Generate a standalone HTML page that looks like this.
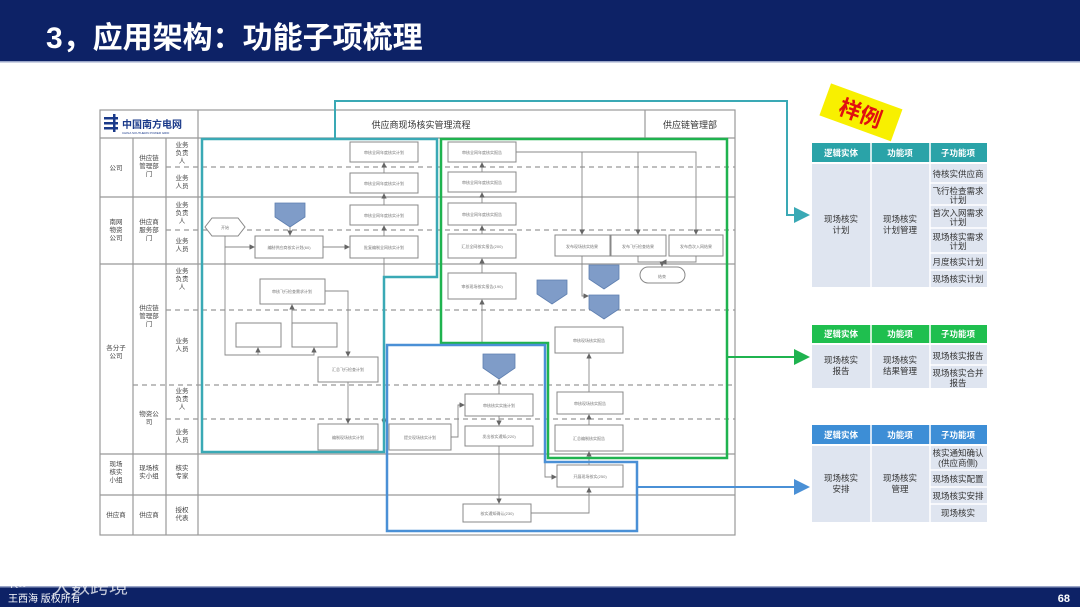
<!DOCTYPE html>
<html><head><meta charset="utf-8"><style>
html,body{margin:0;padding:0;background:#fff}
body{width:1080px;height:607px;overflow:hidden;position:relative;font-family:"Liberation Sans","Noto Sans CJK SC",sans-serif}
svg{position:absolute;left:0;top:0}
.t{font-family:"Liberation Sans","Noto Sans CJK SC",sans-serif}
</style></head><body>
<svg width="1080" height="607" viewBox="0 0 1080 607" xmlns="http://www.w3.org/2000/svg">
<defs>
<marker id="ag" markerWidth="6" markerHeight="6" refX="5" refY="3" orient="auto"><path d="M0,0 L6,3 L0,6z" fill="#666"/></marker>
<marker id="at" markerWidth="8" markerHeight="8" refX="7" refY="4" orient="auto"><path d="M0,0 L8,4 L0,8z" fill="#3aa9b5"/></marker>
<marker id="agr" markerWidth="8" markerHeight="8" refX="7" refY="4" orient="auto"><path d="M0,0 L8,4 L0,8z" fill="#1fb34f"/></marker>
<marker id="ab" markerWidth="8" markerHeight="8" refX="7" refY="4" orient="auto"><path d="M0,0 L8,4 L0,8z" fill="#4a90d6"/></marker>
</defs>
<!-- title bar -->
<rect x="0" y="0" width="1080" height="61" fill="#0d2266"/>
<rect x="0" y="61" width="1080" height="1.5" fill="#9aa6c8"/>
<text x="46" y="48" class="t" font-size="30" font-weight="bold" fill="#fff">3，应用架构：功能子项梳理</text>

<!-- diagram frame -->
<g stroke="#999" fill="none" stroke-width="1.2">
<rect x="100" y="110" width="635" height="425" fill="#fff"/>
<line x1="100" y1="138" x2="735" y2="138"/>
<line x1="198" y1="110" x2="198" y2="535"/>
<line x1="645" y1="110" x2="645" y2="138"/>
<line x1="133" y1="138" x2="133" y2="535"/>
<line x1="166" y1="138" x2="166" y2="535"/>
<line x1="100" y1="197" x2="735" y2="197"/>
<line x1="100" y1="264" x2="735" y2="264"/>
<line x1="100" y1="454" x2="735" y2="454"/>
<line x1="100" y1="495" x2="735" y2="495"/>
<line x1="133" y1="385" x2="735" y2="385" stroke-dasharray="5,4"/>
<line x1="166" y1="167" x2="735" y2="167" stroke-dasharray="5,4"/>
<line x1="166" y1="230" x2="735" y2="230" stroke-dasharray="5,4"/>
<line x1="166" y1="310" x2="735" y2="310" stroke-dasharray="5,4"/>
<line x1="166" y1="419" x2="735" y2="419" stroke-dasharray="5,4"/>
</g>
<!-- logo -->
<g fill="#1a3a8a"><rect x="104" y="117" width="14" height="2.5"/><rect x="104" y="122" width="14" height="2.5"/><rect x="104" y="127" width="14" height="2.5"/><rect x="113" y="114" width="2.5" height="18"/></g>
<text x="122" y="128" class="t" font-size="10" font-weight="bold" fill="#1a3a8a">中国南方电网</text>
<text x="122" y="134" class="t" font-size="3" fill="#1a3a8a">CHINA SOUTHERN POWER GRID</text>
<text x="421" y="128" class="t" font-size="9" fill="#333" text-anchor="middle">供应商现场核实管理流程</text>
<text x="690" y="128" class="t" font-size="9" fill="#333" text-anchor="middle">供应链管理部</text>
<!-- lane labels -->
<g class="t" font-size="6.5" fill="#444" text-anchor="middle">
<text x="116" y="170">公司</text>
<text x="149" y="160">供应链</text><text x="149" y="168">管理部</text><text x="149" y="176">门</text>
<text x="182" y="147">业务</text><text x="182" y="155">负责</text><text x="182" y="163">人</text>
<text x="182" y="180">业务</text><text x="182" y="188">人员</text>
<text x="116" y="224">南网</text><text x="116" y="232">物资</text><text x="116" y="240">公司</text>
<text x="149" y="224">供应商</text><text x="149" y="232">服务部</text><text x="149" y="240">门</text>
<text x="182" y="207">业务</text><text x="182" y="215">负责</text><text x="182" y="223">人</text>
<text x="182" y="243">业务</text><text x="182" y="251">人员</text>
<text x="116" y="350">各分子</text><text x="116" y="358">公司</text>
<text x="149" y="310">供应链</text><text x="149" y="318">管理部</text><text x="149" y="326">门</text>
<text x="182" y="273">业务</text><text x="182" y="281">负责</text><text x="182" y="289">人</text>
<text x="182" y="343">业务</text><text x="182" y="351">人员</text>
<text x="149" y="416">物资公</text><text x="149" y="424">司</text>
<text x="182" y="393">业务</text><text x="182" y="401">负责</text><text x="182" y="409">人</text>
<text x="182" y="434">业务</text><text x="182" y="442">人员</text>
<text x="116" y="466">现场</text><text x="116" y="474">核实</text><text x="116" y="482">小组</text>
<text x="149" y="470">现场核</text><text x="149" y="478">实小组</text>
<text x="182" y="470">核实</text><text x="182" y="478">专家</text>
<text x="116" y="517">供应商</text><text x="149" y="517">供应商</text>
<text x="182" y="512">授权</text><text x="182" y="520">代表</text>
</g>

<!-- flow boxes -->
<g stroke="#888" fill="#fff" stroke-width="1">
<rect x="350" y="142" width="68" height="20"/><rect x="350" y="173" width="68" height="20"/>
<rect x="350" y="205" width="68" height="20"/><rect x="350" y="236" width="68" height="22"/>
<rect x="255" y="236" width="68" height="22"/>
<rect x="260" y="279" width="65" height="25"/>
<rect x="236" y="323" width="45" height="24"/><rect x="292" y="323" width="45" height="24"/>
<rect x="318" y="357" width="60" height="25"/><rect x="318" y="424" width="60" height="26"/>
<rect x="448" y="142" width="68" height="20"/><rect x="448" y="172" width="68" height="20"/>
<rect x="448" y="203" width="68" height="22"/><rect x="448" y="234" width="68" height="24"/>
<rect x="448" y="273" width="68" height="26"/>
<rect x="555" y="235" width="55" height="21"/><rect x="611" y="235" width="55" height="21"/><rect x="669" y="235" width="54" height="21"/>
<rect x="640" y="267" width="45" height="16" rx="8"/>
<rect x="555" y="327" width="68" height="26"/>
<rect x="557" y="392" width="66" height="22"/><rect x="555" y="425" width="68" height="26"/>
<rect x="465" y="394" width="68" height="22"/><rect x="465" y="426" width="68" height="20"/>
<rect x="463" y="504" width="68" height="18"/><rect x="557" y="465" width="66" height="22"/>
<rect x="389" y="424" width="62" height="26"/>
<path d="M205,227 L212,218 L238,218 L245,227 L238,236 L212,236z"/>
</g>
<g fill="#7f9cc8" stroke="#5e7fb0" stroke-width="0.8">
<path d="M275,203 h30 v14 l-15,10 l-15,-10z"/>
<path d="M483,354 h32 v14 l-16,11 l-16,-11z"/>
<path d="M537,280 h30 v14 l-15,10 l-15,-10z"/>
<path d="M589,265 h30 v14 l-15,10 l-15,-10z"/>
<path d="M589,295 h30 v14 l-15,10 l-15,-10z"/>
</g>
<g class="t" font-size="4" fill="#777" text-anchor="middle">
<text x="384" y="154">审核全网年度核实计划</text><text x="384" y="185">审核全网年度核实计划</text>
<text x="384" y="217">审核全网年度核实计划</text><text x="384" y="249">批复编制全网核实计划</text>
<text x="289" y="249">编制供应商核实计划(60)</text><text x="225" y="229">开始</text>
<text x="292" y="293">审核飞行检查需求计划</text>
<text x="482" y="154">审核全网年度核实报告</text><text x="482" y="184">审核全网年度核实报告</text>
<text x="482" y="216">审核全网年度核实报告</text><text x="482" y="248">汇总全网核实报告(200)</text>
<text x="482" y="288">审核现场核实报告(190)</text>
<text x="582" y="248">发布现场核实结果</text><text x="638" y="248">发布飞行检查结果</text><text x="696" y="248">发布首次入网结果</text>
<text x="662" y="278">结束</text>
<text x="589" y="342">审核现场核实报告</text><text x="590" y="405">审核现场核实报告</text><text x="589" y="440">汇总编制核实报告</text>
<text x="499" y="407">审核核实实施计划</text><text x="499" y="438">发出核实通知(220)</text>
<text x="497" y="515">核实通知确认(230)</text><text x="590" y="478">开展现场核实(250)</text>
<text x="420" y="439">提交现场核实计划</text><text x="348" y="371">汇总飞行检查计划</text><text x="348" y="439">编制现场核实计划</text>
</g>
<!-- connectors -->
<g stroke="#888" fill="none" stroke-width="0.9" marker-end="url(#ag)">
<line x1="384" y1="173" x2="384" y2="163"/><line x1="384" y1="205" x2="384" y2="194"/><line x1="384" y1="236" x2="384" y2="226"/>
<line x1="323" y1="247" x2="349" y2="247"/>
<polyline points="225,236 225,247 254,247"/>
<line x1="290" y1="227" x2="290" y2="235"/>
<line x1="292" y1="323" x2="292" y2="305"/>
<polyline points="325,291 348,291 348,356"/>
<line x1="348" y1="382" x2="348" y2="423"/>
<polyline points="225,247 225,355 258,355 258,348"/>
<polyline points="225,355 314,355 314,348"/>
<line x1="384" y1="258" x2="384" y2="424"/>
<line x1="482" y1="172" x2="482" y2="163"/><line x1="482" y1="203" x2="482" y2="193"/><line x1="482" y1="234" x2="482" y2="226"/>
<line x1="482" y1="273" x2="482" y2="259"/>
<polyline points="516,152 582,152 582,234"/><polyline points="582,152 638,152 638,234"/><polyline points="638,152 696,152 696,234"/>
<polyline points="638,256 638,262 662,262 662,266"/>
<polyline points="696,256 696,262 662,262"/>
<polyline points="582,256 582,296 588,296"/>
<line x1="589" y1="392" x2="589" y2="354"/><line x1="589" y1="425" x2="589" y2="415"/><line x1="589" y1="465" x2="589" y2="452"/>
<line x1="482" y1="345" x2="482" y2="300"/>
<line x1="499" y1="394" x2="499" y2="380"/><line x1="499" y1="416" x2="499" y2="425"/>
<line x1="499" y1="446" x2="499" y2="503"/>
<polyline points="531,513 589,513 589,488"/>
<polyline points="451,437 458,437 458,405 464,405"/>
<polyline points="545,364 545,477 556,477"/>
</g>

<!-- colored group outlines -->
<polyline points="335,139 335,101 787,101 787,215 808,215" fill="none" stroke="#3aa9b5" stroke-width="2" marker-end="url(#at)"/>
<path d="M202,139 H437 V277 H384 V452 H202 Z" fill="none" stroke="#3aa9b5" stroke-width="2.5"/>
<path d="M441,139 H727 V458 H548 V343 H441 Z" fill="none" stroke="#1fb34f" stroke-width="2.5"/>
<line x1="727" y1="357" x2="808" y2="357" stroke="#1fb34f" stroke-width="2" marker-end="url(#agr)"/>
<path d="M387,345 H545 V462 H637 V531 H387 Z" fill="none" stroke="#4a90d6" stroke-width="2.5"/>
<line x1="637" y1="487" x2="808" y2="487" stroke="#4a90d6" stroke-width="2" marker-end="url(#ab)"/>

<!-- sample tag -->
<g transform="rotate(20 860 112)">
<rect x="823" y="95" width="76" height="34" fill="#f8f000"/>
<text x="861" y="121" class="t" font-size="22" font-weight="bold" fill="#e01010" text-anchor="middle">样例</text>
</g>

<!-- tables -->
<g class="t" font-size="8.5" text-anchor="middle">
<!-- table1 -->
<rect x="812" y="143" width="175" height="19" fill="#2aa3a8"/>
<rect x="812" y="164" width="175" height="123" fill="#dfe5f0"/>
<g stroke="#fff" stroke-width="1.5"><line x1="871" y1="143" x2="871" y2="287"/><line x1="930" y1="143" x2="930" y2="287"/>
<line x1="930" y1="183" x2="987" y2="183"/><line x1="930" y1="205" x2="987" y2="205"/><line x1="930" y1="228" x2="987" y2="228"/><line x1="930" y1="253" x2="987" y2="253"/><line x1="930" y1="270" x2="987" y2="270"/></g>
<g fill="#fff" font-weight="bold"><text x="841" y="156">逻辑实体</text><text x="900" y="156">功能项</text><text x="958" y="156">子功能项</text></g>
<g fill="#333"><text x="841" y="222">现场核实</text><text x="841" y="233">计划</text>
<text x="900" y="222">现场核实</text><text x="900" y="233">计划管理</text>
<text x="958" y="177">待核实供应商</text><text x="958" y="194">飞行检查需求</text><text x="958" y="203">计划</text>
<text x="958" y="216">首次入网需求</text><text x="958" y="225">计划</text><text x="958" y="240">现场核实需求</text><text x="958" y="249">计划</text>
<text x="958" y="265">月度核实计划</text><text x="958" y="282">现场核实计划</text></g>
<!-- table2 -->
<rect x="812" y="325" width="175" height="18" fill="#1fbf4f"/>
<rect x="812" y="345" width="175" height="43" fill="#dfe5f0"/>
<g stroke="#fff" stroke-width="1.5"><line x1="871" y1="325" x2="871" y2="388"/><line x1="930" y1="325" x2="930" y2="388"/><line x1="930" y1="365" x2="987" y2="365"/></g>
<g fill="#fff" font-weight="bold"><text x="841" y="337">逻辑实体</text><text x="900" y="337">功能项</text><text x="958" y="337">子功能项</text></g>
<g fill="#333"><text x="841" y="363">现场核实</text><text x="841" y="374">报告</text>
<text x="900" y="363">现场核实</text><text x="900" y="374">结果管理</text>
<text x="958" y="359">现场核实报告</text><text x="958" y="376">现场核实合并</text><text x="958" y="386">报告</text></g>
<!-- table3 -->
<rect x="812" y="425" width="175" height="19" fill="#3d8ed6"/>
<rect x="812" y="446" width="175" height="76" fill="#dfe5f0"/>
<g stroke="#fff" stroke-width="1.5"><line x1="871" y1="425" x2="871" y2="522"/><line x1="930" y1="425" x2="930" y2="522"/>
<line x1="930" y1="470" x2="987" y2="470"/><line x1="930" y1="487" x2="987" y2="487"/><line x1="930" y1="504" x2="987" y2="504"/></g>
<g fill="#fff" font-weight="bold"><text x="841" y="438">逻辑实体</text><text x="900" y="438">功能项</text><text x="958" y="438">子功能项</text></g>
<g fill="#333"><text x="841" y="481">现场核实</text><text x="841" y="492">安排</text>
<text x="900" y="481">现场核实</text><text x="900" y="492">管理</text>
<text x="958" y="456">核实通知确认</text><text x="958" y="466">(供应商侧)</text><text x="958" y="482">现场核实配置</text>
<text x="958" y="499">现场核实安排</text><text x="958" y="516">现场核实</text></g>
</g>

<!-- footer -->
<rect x="0" y="587" width="1080" height="20" fill="#0d2266"/>
<rect x="0" y="586" width="1080" height="1.5" fill="#9aa6c8"/>
<text x="8" y="602" class="t" font-size="10" fill="#fff">王西海 版权所有</text>
<text x="52" y="593" class="t" font-size="19" fill="#fff" fill-opacity="0.75">大数跨境</text>
<text x="10" y="588" class="t" font-size="12" fill="#fff" fill-opacity="0.75">K∞</text>
<text x="1070" y="602" class="t" font-size="11" font-weight="bold" fill="#fff" text-anchor="end">68</text>
</svg>
</body></html>
